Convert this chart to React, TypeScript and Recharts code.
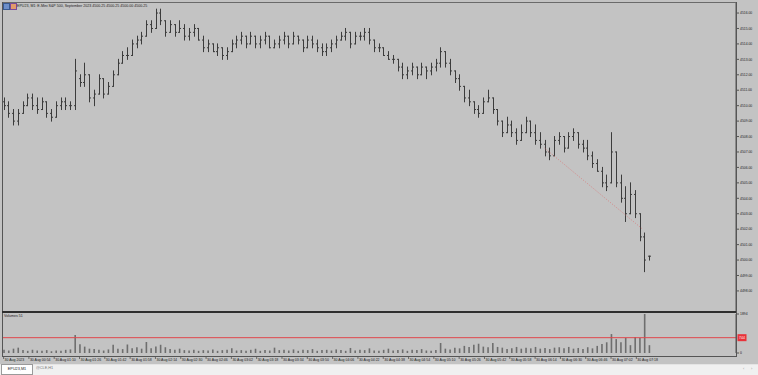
import React from 'react';
import { ComposedChart, Bar, XAxis, YAxis, ReferenceLine } from 'recharts';

// M1 bars of EPU23, sampled every 3 minutes from 00:38
const opens = [
  4510.25, 4510, 4509.5, 4509, 4509.5, 4510, 4510.5, 4510, 4509.75, 4510.25,
  4509.5, 4509.25, 4510, 4510.25, 4510, 4510, 4511.75, 4511.5, 4512, 4510.5,
  4510.75, 4511.75, 4510.75, 4511.25, 4512, 4512.75, 4513.25, 4513.25, 4514, 4514.25,
  4514.5, 4515.25, 4515, 4516, 4515.5, 4514.75, 4515.25, 4514.75, 4515, 4514.5,
  4514.75, 4515, 4514.25, 4513.75, 4514, 4513.5, 4513.75, 4513.25, 4513.5, 4514,
  4514.25, 4514.5, 4514, 4514.5, 4514, 4514.25, 4514.5, 4513.75, 4514, 4514.25,
  4514.5, 4514, 4514.5, 4514.25, 4513.75, 4514.25, 4514, 4513.75, 4513.5, 4513.75,
  4514, 4514.25, 4514.5, 4514.75, 4514, 4514.5, 4514.5, 4514.75, 4514.25, 4513.75,
  4513.75, 4513.25, 4513, 4513, 4512.5, 4512, 4512.25, 4512.5, 4512, 4512.5,
  4512.25, 4512.5, 4512.75, 4513.5, 4512.75, 4512.25, 4511.75, 4511.25, 4510.5, 4510.25,
  4509.75, 4509.5, 4510.25, 4510.5, 4509.75, 4509, 4508.25, 4508.75, 4508.25, 4507.75,
  4508.25, 4509, 4508.25, 4507.75, 4507.5, 4507, 4506.75, 4507.75, 4508, 4507.25,
  4508, 4508.25, 4507.5, 4507.25, 4506.75, 4506.25, 4505.75, 4505, 4505, 4507,
  4505, 4504, 4503, 4504.25, 4503, 4501.5, 4500.25,
];
const highs = [
  4510.5, 4510.25, 4509.75, 4509.75, 4510.25, 4510.75, 4510.75, 4510.5, 4510.5, 4510.25,
  4509.75, 4510.25, 4510.5, 4510.5, 4510.25, 4513, 4512, 4512.75, 4512, 4511,
  4512, 4511.75, 4511.5, 4512.25, 4513, 4513.5, 4513.75, 4514.25, 4514.5, 4514.75,
  4515.5, 4515.5, 4516.25, 4516.25, 4515.5, 4515.5, 4515.25, 4515.5, 4515.25, 4515,
  4515.25, 4515, 4514.5, 4514.25, 4514, 4514, 4513.75, 4513.75, 4514.25, 4514.5,
  4514.75, 4514.5, 4514.75, 4514.5, 4514.5, 4514.75, 4514.5, 4514.25, 4514.5, 4514.75,
  4514.5, 4514.75, 4514.5, 4514.25, 4514.5, 4514.5, 4514.25, 4514, 4514, 4514.25,
  4514.5, 4514.75, 4515, 4514.75, 4514.75, 4514.75, 4515, 4515, 4514.25, 4514,
  4513.75, 4513.5, 4513.25, 4513, 4512.75, 4512.5, 4512.75, 4512.5, 4512.75, 4512.5,
  4512.75, 4513, 4513.75, 4513.5, 4513, 4512.25, 4512, 4511.25, 4511, 4510.25,
  4510, 4510.5, 4511, 4510.5, 4509.75, 4509, 4509.25, 4509, 4508.5, 4508.75,
  4509.25, 4509, 4508.75, 4508.25, 4507.75, 4507.25, 4508, 4508.25, 4508, 4508.25,
  4508.5, 4508.25, 4507.75, 4507.75, 4507, 4506.5, 4506, 4505.5, 4508.25, 4507,
  4505.5, 4504.75, 4505, 4504.5, 4503, 4501.75, 4500.25,
];
const lows = [
  4509.75, 4509.25, 4508.75, 4508.75, 4509.5, 4510, 4509.75, 4509.5, 4509.75, 4509.25,
  4509, 4509.25, 4509.75, 4509.75, 4509.75, 4509.75, 4511.25, 4511.25, 4510.25, 4510,
  4510.75, 4510.5, 4510.75, 4511.25, 4512, 4512.75, 4513, 4513.25, 4513.75, 4514,
  4514.5, 4514.75, 4515, 4515.25, 4514.5, 4514.75, 4514.5, 4514.75, 4514.25, 4514.25,
  4514.5, 4514.25, 4513.5, 4513.5, 4513.5, 4513.25, 4513, 4513, 4513.5, 4513.75,
  4514, 4513.75, 4514, 4513.75, 4513.75, 4514, 4513.75, 4513.75, 4513.75, 4514,
  4513.75, 4514, 4514, 4513.5, 4513.75, 4513.75, 4513.5, 4513.25, 4513.25, 4513.5,
  4513.75, 4514.25, 4514.25, 4513.75, 4514, 4514.25, 4514.25, 4514, 4513.5, 4513.5,
  4513.25, 4513, 4512.75, 4512.25, 4511.75, 4511.75, 4512, 4511.75, 4512, 4511.75,
  4512, 4512.25, 4512.5, 4512.5, 4512, 4511.5, 4511, 4510.25, 4510, 4509.5,
  4509.25, 4509.5, 4510.25, 4509.5, 4508.75, 4508, 4508.25, 4508, 4507.5, 4507.75,
  4508.25, 4508, 4507.5, 4507.25, 4506.75, 4506.5, 4506.75, 4507.5, 4507, 4507.25,
  4507.75, 4507.25, 4507, 4506.5, 4506, 4505.75, 4504.75, 4504.5, 4505, 4504.75,
  4503.75, 4502.5, 4503, 4502.75, 4501.25, 4499.25, 4500,
];
const closes = [
  4510, 4509.5, 4509, 4509.5, 4510, 4510.5, 4510, 4509.75, 4510.25, 4509.5,
  4509.25, 4510, 4510.25, 4510, 4510, 4512.25, 4511.5, 4512, 4510.5, 4510.75,
  4511.75, 4510.75, 4511.25, 4512, 4512.75, 4513.25, 4513.25, 4514, 4514.25, 4514.5,
  4515.25, 4515, 4516, 4515.5, 4514.75, 4515.25, 4514.75, 4515, 4514.5, 4514.75,
  4515, 4514.25, 4513.75, 4514, 4513.5, 4513.75, 4513.25, 4513.5, 4514, 4514.25,
  4514.5, 4514, 4514.5, 4514, 4514.25, 4514.5, 4513.75, 4514, 4514.25, 4514.5,
  4514, 4514.5, 4514.25, 4513.75, 4514.25, 4514, 4513.75, 4513.5, 4513.75, 4514,
  4514.25, 4514.5, 4514.75, 4514, 4514.5, 4514.5, 4514.75, 4514.25, 4513.75, 4513.75,
  4513.25, 4513, 4513, 4512.5, 4512, 4512.25, 4512.5, 4512, 4512.5, 4512.25,
  4512.5, 4512.75, 4513.5, 4512.75, 4512.25, 4511.75, 4511.25, 4510.5, 4510.25, 4509.75,
  4509.5, 4510.25, 4510.5, 4509.75, 4509, 4508.25, 4508.75, 4508.25, 4507.75, 4508.25,
  4509, 4508.25, 4507.75, 4507.5, 4507, 4506.75, 4507.75, 4508, 4507.25, 4508,
  4508.25, 4507.5, 4507.25, 4506.75, 4506.25, 4505.75, 4505, 4504.75, 4507, 4505,
  4504, 4503, 4504.25, 4503, 4501.5, 4500, 4500.25,
];
const volumes = [
  155, 120, 210, 260, 140, 105, 155, 120, 105, 140,
  85, 120, 105, 155, 175, 875, 430, 310, 210, 190,
  155, 120, 175, 400, 210, 190, 415, 225, 280, 210,
  535, 225, 310, 400, 280, 190, 155, 210, 140, 120,
  155, 105, 140, 120, 175, 105, 140, 155, 225, 120,
  140, 105, 155, 210, 105, 140, 120, 260, 140, 155,
  120, 175, 105, 155, 140, 190, 105, 140, 155, 120,
  175, 140, 105, 245, 120, 155, 140, 225, 120, 105,
  155, 210, 120, 140, 175, 105, 155, 140, 190, 120,
  105, 140, 485, 210, 175, 260, 225, 345, 295, 400,
  450, 310, 280, 485, 295, 260, 190, 225, 295, 210,
  260, 225, 295, 210, 245, 190, 260, 280, 225, 295,
  210, 245, 190, 280, 225, 345, 435, 520, 920, 675,
  520, 730, 380, 780, 730, 1894, 380,
];

const barMinutes = 3;
const priceTicks = [4498, 4499, 4500, 4501, 4502, 4503, 4504, 4505, 4506, 4507, 4508, 4509, 4510, 4511, 4512, 4513, 4514, 4515, 4516];
const volumeTicks = [0, 1894];
const volumeLevel = 744;
const timeTicks = [0, 16, 32, 48, 64, 80, 96, 112, 128, 144, 160, 176, 192, 208, 224, 240, 256, 272, 288, 304, 320, 336, 352, 368, 384, 400];
const timeLabels = [
  '30 Aug 2023', '30 Aug 00:54', '30 Aug 01:10', '30 Aug 01:26', '30 Aug 01:42', '30 Aug 01:58',
  '30 Aug 02:14', '30 Aug 02:30', '30 Aug 02:46', '30 Aug 03:02', '30 Aug 03:18', '30 Aug 03:34',
  '30 Aug 03:50', '30 Aug 04:06', '30 Aug 04:22', '30 Aug 04:38', '30 Aug 04:54', '30 Aug 05:10',
  '30 Aug 05:26', '30 Aug 05:42', '30 Aug 05:58', '30 Aug 06:14', '30 Aug 06:30', '30 Aug 06:46',
  '30 Aug 07:02', '30 Aug 07:18',
];
const trendStart = { t: 342, price: 4507.25 };
const trendEnd = { t: 404, price: 4502 };

const bars = opens.map((o, i) => ({
  t: i * barMinutes,
  open: o,
  high: highs[i],
  low: lows[i],
  close: closes[i],
  range: [lows[i], highs[i]],
  vol: volumes[i],
}));

const BG = '#c3c3c3';
const INK = '#3c3c3c';
const FONT = "'Liberation Sans', Arial, sans-serif";
const X_DOMAIN: [number, number] = [-1, 463];

const OhlcBar = (props: any) => {
  const { x, y, width, height, payload } = props;
  if (!payload) return null;
  const top = Math.min(y, y + height);
  const h = Math.abs(height);
  const span = payload.high - payload.low || 1;
  const cx = Math.round(x + width / 2) + 0.5;
  const yo = top + ((payload.high - payload.open) / span) * h;
  const yc = top + ((payload.high - payload.close) / span) * h;
  return (
    <g stroke={INK} strokeWidth={1}>
      <line x1={cx} x2={cx} y1={top - 0.5} y2={top + h + 0.5} />
      <line x1={cx - 1.5} x2={cx} y1={yo} y2={yo} />
      <line x1={cx} x2={cx + 1.5} y1={yc} y2={yc} />
    </g>
  );
};

const TimeTick = (props: any) => {
  const { x, payload, index } = props;
  return (
    <g>
      <line x1={x} x2={x} y1={44} y2={47} stroke="#444" strokeWidth={0.7} />
      <text x={x + 1} y={49.3} fontSize={3.5} fill="#222" fontFamily={FONT}>
        {timeLabels[index] ?? String(payload.value)}
      </text>
    </g>
  );
};

const LevelTag = (props: any) => {
  const { viewBox } = props;
  if (!viewBox) return null;
  const x = viewBox.x + viewBox.width + 1.5;
  const y = viewBox.y;
  return (
    <g>
      <rect x={x} y={y - 3.5} width={9} height={7} fill="#e8323a" />
      <text x={x + 4.5} y={y + 1.3} fontSize={3.5} fill="#fff" textAnchor="middle" fontFamily={FONT}>
        {volumeLevel}
      </text>
    </g>
  );
};

const line = (style: React.CSSProperties) => (
  <div style={{ position: 'absolute', ...style }} />
);

const App = () => {
  return (
    <div
      style={{
        position: 'fixed',
        left: 0,
        top: 0,
        width: 758,
        height: 375,
        overflow: 'hidden',
        background: BG,
        fontFamily: FONT,
      }}
    >
      <div style={{ position: 'absolute', left: 0, top: 0 }}>
        <ComposedChart width={758} height={311} data={bars} margin={{ top: 3, right: 0, bottom: 0, left: 2 }}>
          <XAxis dataKey='t' type='number' domain={X_DOMAIN} allowDataOverflow hide />
          <YAxis
            orientation='right'
            width={22}
            domain={[4496.7, 4516.65]}
            allowDataOverflow
            ticks={priceTicks}
            interval={0}
            tickFormatter={(v: number) => v.toFixed(2)}
            tick={{ fontSize: 3.4, fill: '#222', fontFamily: FONT }}
            tickSize={3}
            tickMargin={1}
            axisLine={{ stroke: '#555' }}
            tickLine={{ stroke: '#555' }}
          />
          <Bar dataKey='range' barSize={3} shape={OhlcBar} isAnimationActive={false} />
          <ReferenceLine
            segment={[
              { x: trendStart.t, y: trendStart.price },
              { x: trendEnd.t, y: trendEnd.price },
            ]}
            stroke='#d77a7a'
            strokeWidth={0.8}
            strokeDasharray='1 1.5'
          />
        </ComposedChart>
      </div>

      <div style={{ position: 'absolute', left: 0, top: 312 }}>
        <ComposedChart width={758} height={52} data={bars} margin={{ top: 2, right: 0, bottom: 0, left: 2 }}>
          <XAxis
            dataKey='t'
            type='number'
            domain={X_DOMAIN}
            allowDataOverflow
            ticks={timeTicks}
            interval={0}
            height={11}
            axisLine={false}
            tickLine={false}
            tick={<TimeTick />}
          />
          <YAxis
            orientation='right'
            width={22}
            domain={[0, 1894]}
            ticks={volumeTicks}
            interval={0}
            tick={{ fontSize: 3.4, fill: '#222', fontFamily: FONT }}
            tickSize={3}
            tickMargin={1}
            axisLine={{ stroke: '#555' }}
            tickLine={{ stroke: '#555' }}
          />
          <ReferenceLine y={volumeLevel} stroke='#e0474c' strokeWidth={1} label={<LevelTag />} />
          <Bar dataKey='vol' barSize={1.6} fill='#6e6e6e' isAnimationActive={false} />
        </ComposedChart>
      </div>

      {/* panel frames */}
      {line({ left: 2, top: 2, width: 734, height: 1, background: '#6a6a6a' })}
      {line({ left: 2, top: 2, width: 1, height: 354, background: '#555' })}
      {line({ left: 2, top: 311, width: 734, height: 1.5, background: '#2e2e2e' })}
      {line({ left: 2, top: 356, width: 734, height: 1, background: '#555' })}
      {line({ left: 736, top: 2, width: 1, height: 355, background: '#555' })}

      {/* title */}
      <div style={{ position: 'absolute', left: 3, top: 3, width: 5, height: 5, background: '#6d8fc9', border: '0.5px solid #3a5a90' }} />
      <div style={{ position: 'absolute', left: 10, top: 3, width: 5, height: 5, background: '#e39a6a', border: '0.5px solid #7a4a9a' }} />
      <div style={{ position: 'absolute', left: 17, top: 3.5, fontSize: 3.6, lineHeight: '5px', color: '#222', whiteSpace: 'nowrap' }}>
        EPU23, M1:  E-Mini S&amp;P 500, September 2023  4500.25 4500.25 4500.00 4500.25
      </div>
      <div style={{ position: 'absolute', left: 4, top: 314, fontSize: 3.6, lineHeight: '5px', color: '#222', whiteSpace: 'nowrap' }}>
        Volumes 51
      </div>

      {/* symbol tabs */}
      <div style={{ position: 'absolute', left: 0, top: 364, width: 758, height: 11, background: '#f0f0f0', borderTop: '1px solid #e4e4e4' }} />
      <div
        style={{
          position: 'absolute', left: 1, top: 364, width: 30, height: 9, background: '#fff',
          border: '0.5px solid #9a9a9a', fontSize: 3.8, lineHeight: '9px', textAlign: 'center', color: '#222',
        }}
      >
        EPU23,M1
      </div>
      <div style={{ position: 'absolute', left: 36, top: 364, fontSize: 3.8, lineHeight: '9px', color: '#777' }}>@CLE,H1</div>
      <div style={{ position: 'absolute', left: 743, top: 364, fontSize: 4, lineHeight: '9px', color: '#999' }}>‹</div>
      <div style={{ position: 'absolute', left: 751, top: 364, fontSize: 4, lineHeight: '9px', color: '#999' }}>›</div>
    </div>
  );
};

export default App;
